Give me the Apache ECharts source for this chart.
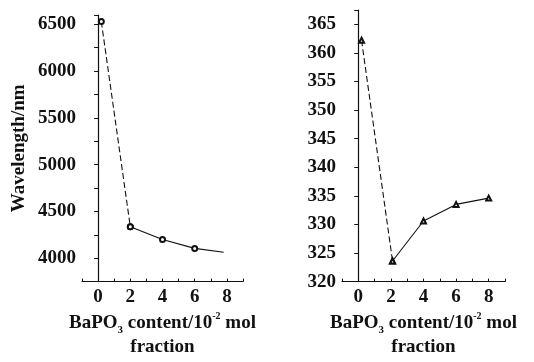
<!DOCTYPE html>
<html>
<head>
<meta charset="utf-8">
<script src="https://cdn.jsdelivr.net/npm/echarts@6/dist/echarts.min.js"></script>
<style>
  html, body { margin: 0; padding: 0; background: #fff; }
  #chart { width: 534px; height: 362px; }
</style>
</head>
<body>
<div id="chart"></div>
<script>
// left panel: wavelength (nm) vs BaPO3 content
const contentLeft = [0.2, 2, 4, 6, 7.8];
const wavelengthLeft = [6530, 4337, 4200, 4105, 4063];
// right panel
const contentRight = [0.2, 2.1, 4, 6, 8];
const wavelengthRight = [362.2, 323.6, 330.6, 333.5, 334.6];
const xTickLabels = [0, 2, 4, 6, 8];

const FONT = "Liberation Serif";
const INK = "#111";

const pairs = (xs, ys) => xs.map((x, i) => [x, ys[i]]);

const xName = "{t|BaPO}{s|3}{t| content/10}{p|-2}{t| mol}\n{t|fraction}";
const xNameStyle = {
  fontFamily: FONT, fontWeight: "bold", color: INK, align: "center",
  rich: {
    t: { fontFamily: FONT, fontWeight: "bold", fontSize: 19, lineHeight: 24, color: INK },
    s: { fontFamily: FONT, fontWeight: "bold", fontSize: 11, lineHeight: 24, verticalAlign: "bottom", padding: [6, 0, 0, 0], color: INK },
    p: { fontFamily: FONT, fontWeight: "bold", fontSize: 10, lineHeight: 24, verticalAlign: "top", padding: [0, 0, 8, 0], color: INK },
  },
};

function xAxis(gridIndex) {
  return {
    type: "value", gridIndex, min: -1, max: 9, interval: 1,
    name: xName, nameLocation: "middle", nameGap: 25, nameTextStyle: xNameStyle,
    axisLine: { lineStyle: { color: INK, width: 1.2 } },
    axisTick: { inside: true, length: 3, lineStyle: { color: INK } },
    axisLabel: {
      margin: 6, fontFamily: FONT, fontWeight: "bold", fontSize: 19, color: INK,
      formatter: (v) => (xTickLabels.includes(v) ? String(v) : ""),
    },
    splitLine: { show: false },
  };
}

function line(xi, data, dashed, symbol) {
  return {
    type: "line", xAxisIndex: xi, yAxisIndex: xi, data,
    symbol, symbolSize: 5, showSymbol: true,
    lineStyle: { color: INK, width: 1.1, type: dashed ? [6, 3] : "solid" },
    itemStyle: { color: INK, borderColor: INK, borderWidth: 1 },
    silent: true, animation: false, z: dashed ? 2 : 3,
  };
}

const leftPts = pairs(contentLeft, wavelengthLeft);
const rightPts = pairs(contentRight, wavelengthRight);
// last point of the left curve carries no marker
const leftSolid = leftPts.slice(1).map((p, i, a) => (i === a.length - 1 ? { value: p, symbol: "none" } : p));

const chart = echarts.init(document.getElementById("chart"));
chart.setOption({
  backgroundColor: "#fff",
  animation: false,
  grid: [
    { left: 82, top: 15, width: 161, height: 270 },
    { left: 342, top: 10, width: 163, height: 279 },
  ],
  xAxis: [xAxis(0), xAxis(1)],
  yAxis: [
    {
      type: "value", gridIndex: 0, min: 3750, max: 6600, interval: 250,
      name: "Wavelength/nm", nameLocation: "middle", nameGap: 53, nameRotate: 90,
      nameTextStyle: { fontFamily: FONT, fontWeight: "bold", fontSize: 19, color: INK },
      axisLine: { show: true, lineStyle: { color: INK, width: 1.2 } },
      axisTick: { length: 4, lineStyle: { color: INK } },
      axisLabel: {
        margin: 6, fontFamily: FONT, fontWeight: "bold", fontSize: 19, color: INK,
        formatter: (v) => (v % 500 === 0 ? String(v) : ""),
      },
      splitLine: { show: false },
    },
    {
      type: "value", gridIndex: 1, min: 320, max: 367.5, interval: 5,
      axisLine: { show: true, lineStyle: { color: INK, width: 1.2 } },
      axisTick: { length: 4, lineStyle: { color: INK } },
      axisLabel: {
        margin: 6, fontFamily: FONT, fontWeight: "bold", fontSize: 19, color: INK,
        formatter: (v) => (v % 5 === 0 ? String(v) : ""),
      },
      splitLine: { show: false },
    },
  ],
  series: [
    line(0, leftPts.slice(0, 2), true, "emptyCircle"),
    line(0, leftSolid, false, "emptyCircle"),
    line(1, rightPts.slice(0, 2), true, "emptyTriangle"),
    line(1, rightPts.slice(1), false, "emptyTriangle"),
  ],
});
</script>
</body>
</html>
